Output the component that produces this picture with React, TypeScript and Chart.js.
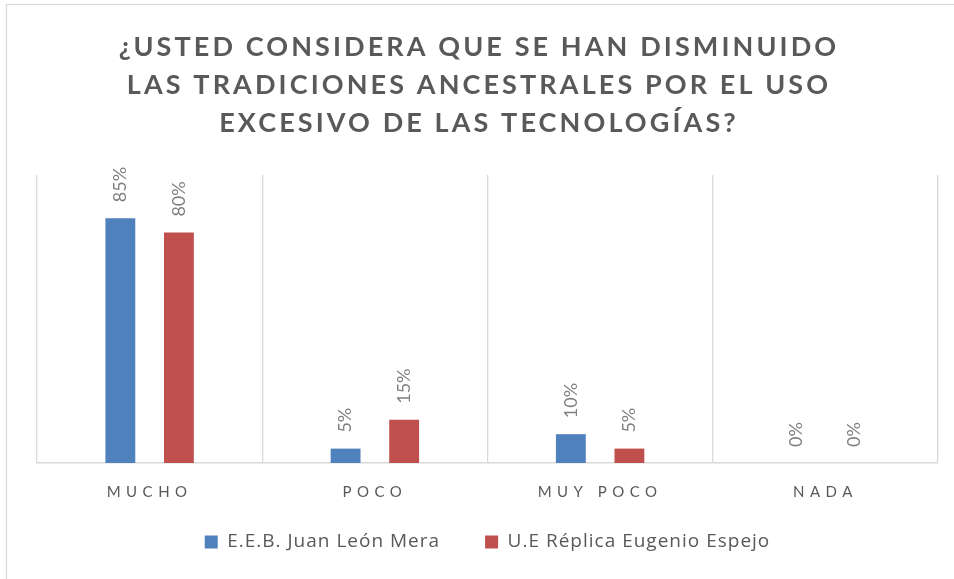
import { useEffect, useRef } from 'react';
import { Chart, registerables, CategoryScale } from 'chart.js';

Chart.register(...registerables);

const TICK_SPACING = '5.5px';
const TITLE_SPACING = '3.1px';
const LEGEND_SPACING = '1px';

class SpacedCategoryScale extends CategoryScale {
  static id = 'spacedCategory';
  static defaults = CategoryScale.defaults;
  _computeLabelArea() {
    return undefined as any;
  }
  drawLabels(chartArea: any) {
    const ctx: any = this.ctx;
    const prev = ctx.letterSpacing;
    ctx.letterSpacing = TICK_SPACING;
    super.drawLabels(chartArea);
    ctx.letterSpacing = prev;
  }
}
Chart.register(SpacedCategoryScale as any);

const TITLE_LINES = [
  '¿USTED CONSIDERA QUE SE HAN DISMINUIDO',
  'LAS TRADICIONES ANCESTRALES POR EL USO',
  'EXCESIVO DE LAS TECNOLOGÍAS?',
];
const CATEGORIES = ['MUCHO', 'POCO', 'MUY POCO', 'NADA'];
const SERIES_NAMES = ['E.E.B. Juan León Mera', 'U.E Réplica Eugenio Espejo'];
const JUAN_LEON_MERA = [85, 5, 10, 0];
const REPLICA_EUGENIO_ESPEJO = [80, 15, 5, 0];
const SERIES_COLORS = ['#4F81BD', '#C0504D'];

const FONT = 'Lato, "Open Sans", sans-serif';
const LEGEND_FONT = '"Open Sans", Lato, sans-serif';

const spacingPlugin = {
  id: 'legendSpacing',
  beforeLayout(chart: any) {
    chart.ctx.letterSpacing = LEGEND_SPACING;
  },
  afterLayout(chart: any) {
    chart.ctx.letterSpacing = '0px';
  },
  beforeDraw(chart: any) {
    const ctx = chart.ctx;
    ctx.save();
    ctx.letterSpacing = '0px';
    ctx.fillStyle = '#ffffff';
    ctx.fillRect(0, 0, chart.width, chart.height);
    ctx.strokeStyle = '#d9d9d9';
    ctx.lineWidth = 1.2;
    ctx.beginPath();
    ctx.moveTo(6.5, chart.height);
    ctx.lineTo(6.5, 4.5);
    ctx.lineTo(chart.width, 4.5);
    ctx.stroke();
    ctx.restore();
    ctx.letterSpacing = LEGEND_SPACING;
  },
  beforeDatasetsDraw(chart: any) {
    chart.ctx.letterSpacing = '0px';
  },
};

const titlePlugin = {
  id: 'spacedTitle',
  afterDraw(chart: any) {
    const ctx: any = chart.ctx;
    ctx.save();
    ctx.font = `bold 27px ${FONT}`;
    ctx.fillStyle = '#595959';
    ctx.textAlign = 'center';
    ctx.textBaseline = 'alphabetic';
    ctx.letterSpacing = TITLE_SPACING;
    const baselines = [55.5, 94, 132];
    TITLE_LINES.forEach((line, i) => {
      ctx.fillText(line, chart.width / 2 + 2, baselines[i]);
    });
    ctx.restore();
    ctx.letterSpacing = '0px';
  },
};

const dataLabelPlugin = {
  id: 'dataLabels',
  afterDatasetsDraw(chart: any) {
    const ctx = chart.ctx;
    ctx.save();
    ctx.letterSpacing = '0px';
    ctx.font = `18px ${FONT}`;
    ctx.fillStyle = '#7f7f7f';
    ctx.textAlign = 'left';
    ctx.textBaseline = 'middle';
    chart.data.datasets.forEach((ds: any, di: number) => {
      const meta = chart.getDatasetMeta(di);
      meta.data.forEach((el: any, i: number) => {
        ctx.save();
        ctx.translate(el.x, el.y - 16);
        ctx.rotate(-Math.PI / 2);
        ctx.fillText(`${ds.data[i]}%`, 0, 0);
        ctx.restore();
      });
    });
    ctx.restore();
  },
};

export default function App() {
  const canvasRef = useRef<HTMLCanvasElement | null>(null);

  useEffect(() => {
    if (!canvasRef.current) return;
    const chart = new Chart(canvasRef.current, {
      type: 'bar',
      data: {
        labels: CATEGORIES,
        datasets: [
          {
            label: SERIES_NAMES[0],
            data: JUAN_LEON_MERA,
            backgroundColor: SERIES_COLORS[0],
            categoryPercentage: 0.52,
            barPercentage: 0.51,
          },
          {
            label: SERIES_NAMES[1],
            data: REPLICA_EUGENIO_ESPEJO,
            backgroundColor: SERIES_COLORS[1],
            categoryPercentage: 0.52,
            barPercentage: 0.51,
          },
        ],
      },
      options: {
        animation: false,
        responsive: false,
        maintainAspectRatio: false,
        layout: { padding: { top: 175, left: 37, right: 16, bottom: 17.6 } },
        plugins: {
          title: { display: false },
          tooltip: { enabled: false },
          legend: {
            display: true,
            position: 'bottom',
            labels: {
              boxWidth: 13,
              boxHeight: 13,
              padding: 45,
              color: '#595959',
              font: { family: LEGEND_FONT, size: 19 },
            },
          },
        },
        scales: {
          x: {
            type: 'spacedCategory' as any,
            offset: true,
            afterFit: (scale: any) => {
              scale.height = 24.4;
            },
            grid: {
              offset: true,
              display: true,
              color: '#d9d9d9',
              lineWidth: 1.3,
              drawTicks: false,
            },
            border: { display: true, color: '#d9d9d9', width: 1.5 },
            ticks: {
              color: '#595959',
              padding: 20.5,
              font: { family: FONT, size: 15 },
            },
          },
          y: {
            display: false,
            min: 0,
            max: 100,
          },
        },
      },
      plugins: [spacingPlugin, dataLabelPlugin, titlePlugin],
    });
    return () => chart.destroy();
  }, []);

  return (
    <div style={{ position: 'fixed', left: 0, top: 0, width: 954, height: 579, background: '#fff' }}>
      <canvas ref={canvasRef} width={954} height={579} style={{ width: 954, height: 579, display: 'block' }} />
    </div>
  );
}
